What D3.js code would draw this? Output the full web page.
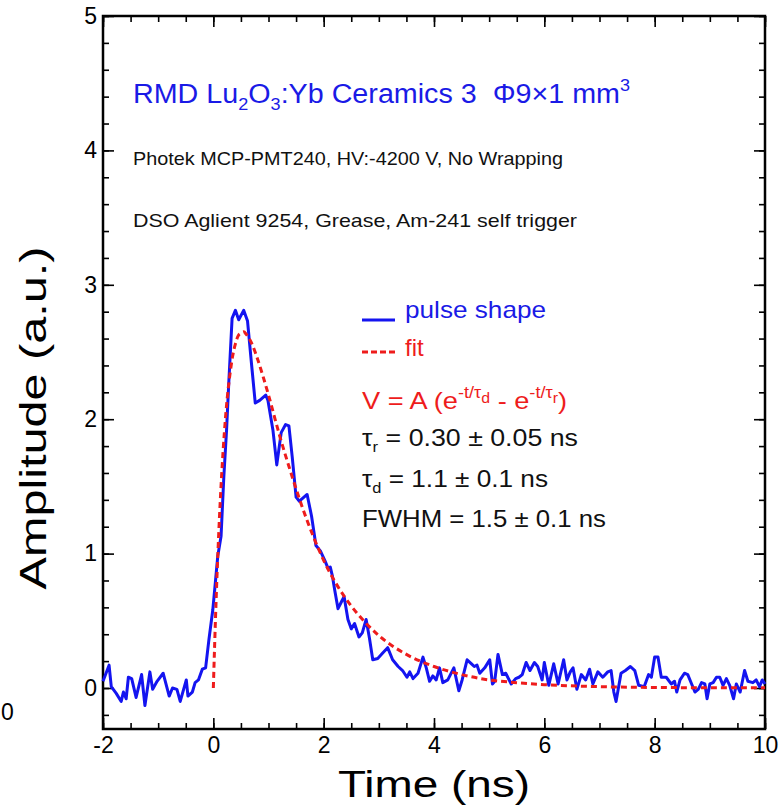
<!DOCTYPE html>
<html>
<head>
<meta charset="utf-8">
<script src="https://cdn.jsdelivr.net/npm/d3@7"></script>
<style>
  body { margin: 0; background: #fff; }
  svg text { font-family: "Liberation Sans", Arial, sans-serif; }
</style>
</head>
<body>
<div id="chart"></div>
<script>
// pulse shape (time in ns, amplitude in a.u.)
var pulseTime = [
  -2.00, -1.89, -1.85, -1.76, -1.67, -1.63, -1.58, -1.54, -1.48, -1.40,
  -1.30, -1.24, -1.15, -1.10, -1.02, -0.91, -0.80, -0.74, -0.66, -0.60,
  -0.49, -0.46, -0.38, -0.33, -0.27, -0.20, -0.14, -0.08, -0.01, 0.04,
  0.08, 0.14, 0.19, 0.24, 0.28, 0.34, 0.40, 0.46, 0.55, 0.62,
  0.69, 0.76, 0.84, 0.95, 0.99, 1.08, 1.15, 1.23, 1.31, 1.37,
  1.43, 1.50, 1.56, 1.70, 1.78, 1.86, 1.94, 2.02, 2.08, 2.12,
  2.16, 2.20, 2.26, 2.32, 2.37, 2.44, 2.50, 2.56, 2.64, 2.70,
  2.77, 2.83, 2.89, 2.98, 3.07, 3.16, 3.25, 3.35, 3.43, 3.51,
  3.56, 3.62, 3.71, 3.80, 3.86, 3.92, 3.98, 4.04, 4.10, 4.16,
  4.25, 4.36, 4.45, 4.51, 4.60, 4.68, 4.73, 4.78, 4.83, 4.92,
  5.01, 5.06, 5.10, 5.16, 5.24, 5.30, 5.40, 5.48, 5.54, 5.60,
  5.67, 5.74, 5.82, 5.88, 5.96, 6.00, 6.08, 6.17, 6.25, 6.35,
  6.41, 6.47, 6.52, 6.59, 6.67, 6.75, 6.82, 6.88, 6.97, 7.06,
  7.15, 7.21, 7.26, 7.30, 7.39, 7.47, 7.56, 7.64, 7.71, 7.81,
  7.89, 7.94, 8.00, 8.06, 8.12, 8.21, 8.30, 8.36, 8.40, 8.46,
  8.54, 8.60, 8.67, 8.73, 8.79, 8.85, 8.91, 8.95, 9.00, 9.06,
  9.12, 9.18, 9.24, 9.30, 9.36, 9.43, 9.48, 9.55, 9.63, 9.69,
  9.78, 9.84, 9.90, 9.95, 10.00
];
var pulseAmp = [
  0.05, 0.17, 0.01, -0.04, -0.10, -0.03, -0.08, 0.08, 0.07, -0.07,
  0.10, -0.13, 0.12, -0.01, 0.05, 0.11, -0.06, 0.00, -0.01, -0.10,
  0.06, -0.06, -0.03, 0.04, 0.06, 0.14, 0.15, 0.36, 0.58, 0.80,
  0.98, 1.13, 1.57, 1.92, 2.27, 2.75, 2.81, 2.74, 2.81, 2.73,
  2.42, 2.12, 2.14, 2.18, 2.14, 1.92, 1.66, 1.90, 1.96, 1.95,
  1.72, 1.42, 1.39, 1.44, 1.28, 1.06, 1.02, 0.95, 0.89, 0.90,
  0.83, 0.73, 0.59, 0.64, 0.68, 0.51, 0.44, 0.48, 0.38, 0.41,
  0.51, 0.37, 0.21, 0.22, 0.26, 0.30, 0.21, 0.16, 0.13, 0.08,
  0.12, 0.07, 0.11, 0.23, 0.15, 0.05, 0.09, 0.06, 0.15, 0.04,
  0.06, 0.15, -0.02, 0.06, 0.21, 0.18, 0.16, 0.17, 0.11, 0.15,
  0.21, 0.03, 0.05, 0.25, 0.10, 0.11, 0.03, 0.07, 0.08, 0.10,
  0.19, 0.13, 0.19, 0.16, 0.06, 0.19, 0.02, 0.18, 0.03, 0.21,
  0.06, 0.12, 0.15, -0.01, 0.10, 0.06, 0.14, 0.03, 0.12, 0.08,
  0.12, 0.13, -0.03, -0.10, 0.11, 0.13, 0.16, 0.13, 0.02, 0.01,
  0.10, 0.08, 0.23, 0.23, 0.08, 0.08, 0.03, 0.05, -0.03, 0.06,
  0.11, 0.10, 0.03, -0.03, -0.01, 0.04, 0.03, -0.08, 0.03, 0.04,
  0.08, 0.08, 0.02, 0.07, 0.02, -0.08, 0.03, -0.03, 0.13, 0.05,
  0.04, 0.06, 0.01, 0.06, 0.03
];

// fitted curve
var fitTime = [0, 0.05, 0.1, 0.15, 0.2, 0.25, 0.3, 0.35, 0.4, 0.45, 0.5, 0.55, 0.6,
  0.7, 0.8, 0.9, 1.0, 1.2, 1.4, 1.6, 1.8, 2.0, 2.25, 2.5, 2.75, 3.0, 3.5, 4.0,
  4.5, 5.0, 5.5, 6.0, 7.0, 8.0, 9.0, 10.0];
var fitAmp = [0, 0.65, 1.17, 1.58, 1.90, 2.15, 2.33, 2.47, 2.56, 2.62, 2.64, 2.65, 2.63,
  2.56, 2.45, 2.32, 2.18, 1.88, 1.61, 1.36, 1.14, 0.95, 0.76, 0.61, 0.49, 0.39, 0.25, 0.16,
  0.10, 0.06, 0.04, 0.025, 0.01, 0.004, 0.002, 0.001];

var xMajor = [-2, 0, 2, 4, 6, 8, 10];
var xMinor = d3.range(-2, 10.01, 0.5);
var yMajor = [0, 1, 2, 3, 4, 5];
var yMinor = d3.range(-0.2, 5.01, 0.2);

var width = 782, height = 807;
var mLeft = 103, mRight = 765, mTop = 16, mBottom = 729;

var svg = d3.select("#chart").append("svg")
  .attr("width", width)
  .attr("height", height);

var x = d3.scaleLinear().domain([-2, 10]).range([mLeft, mRight]);
var y = d3.scaleLinear().domain([-0.305, 5]).range([mBottom, mTop]);

// ticks, all pointing inward
function tickAxis(axis, tr, vals, size, fmt) {
  var g = svg.append("g")
    .attr("transform", tr)
    .call(axis.tickValues(vals).tickSize(size).tickFormat(fmt));
  g.select(".domain").remove();
  g.selectAll("line").attr("stroke", "#000").attr("stroke-width", 1.6);
  g.selectAll("text").attr("fill", "#000").style("font-size", "23px");
  return g;
}
var none = function () { return ""; };
var plain = function (d) { return String(d); };

tickAxis(d3.axisBottom(x), "translate(0," + mBottom + ")", xMinor, -6, none);
tickAxis(d3.axisTop(x), "translate(0," + mTop + ")", xMinor, -6, none);
tickAxis(d3.axisLeft(y), "translate(" + mLeft + ",0)", yMinor, -6, none);
tickAxis(d3.axisRight(y), "translate(" + mRight + ",0)", yMinor, -6, none);

var xb = tickAxis(d3.axisBottom(x), "translate(0," + mBottom + ")", xMajor, -11, plain);
xb.selectAll("text").attr("y", 8).attr("dy", "0.71em");
tickAxis(d3.axisTop(x), "translate(0," + mTop + ")", xMajor, -11, none);
var yl = tickAxis(d3.axisLeft(y), "translate(" + mLeft + ",0)", yMajor, -11, plain);
yl.selectAll("text").attr("x", -6);
tickAxis(d3.axisRight(y), "translate(" + mRight + ",0)", yMajor, -11, none);

svg.append("rect")
  .attr("x", mLeft).attr("y", mTop)
  .attr("width", mRight - mLeft).attr("height", mBottom - mTop)
  .attr("fill", "none")
  .attr("stroke", "#000")
  .attr("stroke-width", 2.5);

// data lines
var pulse = pulseTime.map(function (t, i) { return [t, pulseAmp[i]]; });
var fit = fitTime.map(function (t, i) { return [t, fitAmp[i]]; });

svg.append("path")
  .datum(pulse)
  .attr("fill", "none")
  .attr("stroke", "#1414f0")
  .attr("stroke-width", 3)
  .attr("stroke-linejoin", "round")
  .attr("d", d3.line().x(function (d) { return x(d[0]); }).y(function (d) { return y(d[1]); }));

svg.append("path")
  .datum(fit)
  .attr("fill", "none")
  .attr("stroke", "#ee1c1c")
  .attr("stroke-width", 3)
  .attr("stroke-dasharray", "6,4")
  .attr("d", d3.line().curve(d3.curveMonotoneX)
    .x(function (d) { return x(d[0]); }).y(function (d) { return y(d[1]); }));

// axis titles
svg.append("text")
  .attr("transform", "translate(46,418) rotate(-90)")
  .attr("text-anchor", "middle")
  .attr("font-size", 37)
  .attr("textLength", 343)
  .attr("lengthAdjust", "spacingAndGlyphs")
  .text("Amplitude (a.u.)");

svg.append("text")
  .attr("x", 434).attr("y", 797)
  .attr("text-anchor", "middle")
  .attr("font-size", 37)
  .attr("textLength", 192)
  .attr("lengthAdjust", "spacingAndGlyphs")
  .text("Time (ns)");

svg.append("text")
  .attr("x", 1).attr("y", 720)
  .style("font-size", "23px")
  .text("0");

// annotations
function rich(xp, yp, size, fill, len, parts) {
  var t = svg.append("text")
    .attr("x", xp).attr("y", yp)
    .attr("font-size", size)
    .attr("fill", fill);
  if (len) t.attr("textLength", len).attr("lengthAdjust", "spacingAndGlyphs");
  parts.forEach(function (p) {
    var s = t.append("tspan").text(p[0]);
    if (p[1]) s.attr("dy", p[1]);
    if (p[2]) s.attr("font-size", p[2]);
  });
  return t;
}

rich(133, 103, 27, "#1a1ae6", 497, [
  ["RMD Lu"], ["2", 7, 17], ["O", -7], ["3", 7, 17], [":Yb Ceramics 3\u00A0\u00A0\u03A69\u00D71 mm", -7], ["3", -12, 17]
]);
rich(133, 165, 19, "#111", 430, [["Photek MCP-PMT240, HV:-4200 V, No Wrapping"]]);
rich(133, 227, 19, "#111", 444, [["DSO Aglient 9254, Grease, Am-241 self trigger"]]);

// legend
svg.append("line")
  .attr("x1", 362).attr("x2", 395).attr("y1", 320).attr("y2", 320)
  .attr("stroke", "#1414f0").attr("stroke-width", 3);
svg.append("line")
  .attr("x1", 362).attr("x2", 395).attr("y1", 352).attr("y2", 352)
  .attr("stroke", "#ee1c1c").attr("stroke-width", 3).attr("stroke-dasharray", "6,3");
rich(405, 318, 24, "#1a1ae6", 141, [["pulse shape"]]);
rich(405, 356, 24, "#ee1c1c", null, [["fit"]]);

rich(362, 409, 24, "#ee1c1c", 205, [
  ["V = A (e"], ["-t/\u03C4", -11, 16], ["d", 5, 14], [" - e", 6, 24], ["-t/\u03C4", -11, 16], ["r", 5, 14], [")", 6, 24]
]);
rich(362, 446, 24, "#111", 216, [["\u03C4"], ["r", 6, 15], [" = 0.30 \u00B1 0.05 ns", -6, 24]]);
rich(362, 487, 24, "#111", 186, [["\u03C4"], ["d", 6, 15], [" = 1.1 \u00B1 0.1 ns", -6, 24]]);
rich(362, 527, 24, "#111", 244, [["FWHM = 1.5 \u00B1 0.1 ns"]]);
</script>
</body>
</html>
